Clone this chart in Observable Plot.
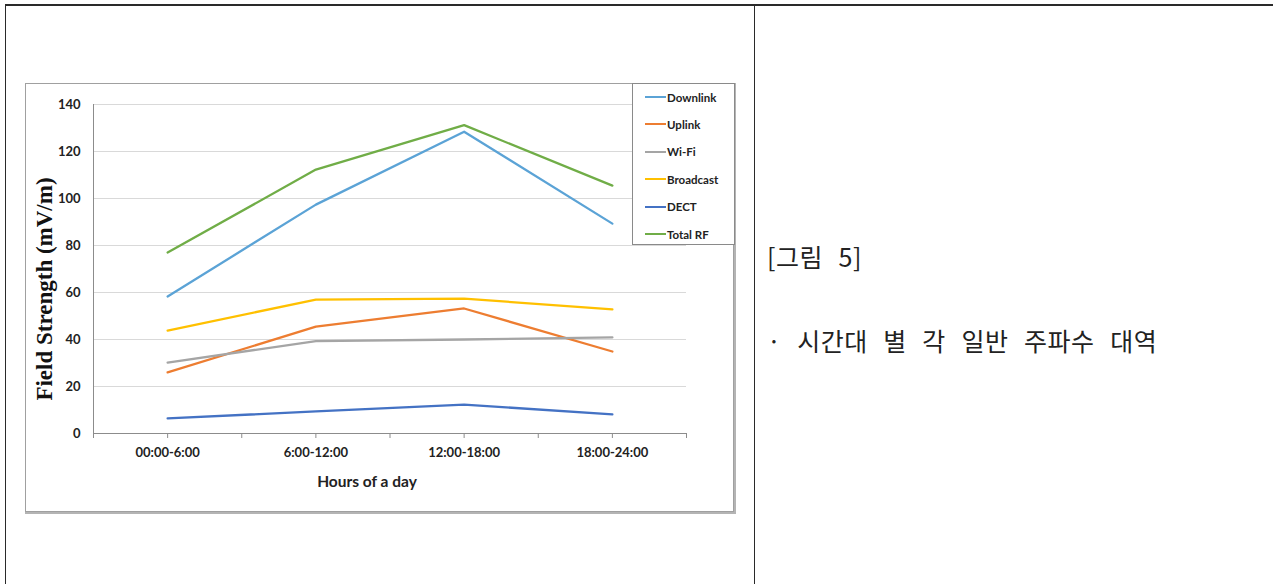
<!DOCTYPE html>
<html><head><meta charset="utf-8">
<script src="https://cdn.jsdelivr.net/npm/d3@7"></script>
<script src="https://cdn.jsdelivr.net/npm/@observablehq/plot@0.6"></script>
<style>
body{margin:0;background:#fff;width:1273px;height:584px;overflow:hidden;position:relative;font-family:Lato,"Liberation Sans",sans-serif}
#topline{position:absolute;left:5px;top:4px;width:1268px;height:2px;background:#2a2a2a}
#leftline{position:absolute;left:5px;top:5px;width:1px;height:579px;background:#2a2a2a}
#divider{position:absolute;left:754px;top:5px;width:1px;height:579px;background:#2a2a2a}
#chartbox{position:absolute;left:25px;top:83px;width:707px;height:427px;border:1px solid #a0a0a0;box-shadow:1px 1px 0 1px #b4b4b4}
#chart{position:absolute;left:25px;top:83px}
#legend{position:absolute;left:632px;top:83px;width:101px;height:160px;border:1px solid #8a8a8a;background:#fff}
.li{position:absolute;left:12px;height:14px;display:flex;align-items:center;font-weight:bold;font-size:11.5px;color:#222}
.li span.sw{display:inline-block;width:21px;height:2px;margin-right:1px}
.kr{position:absolute;left:767px;font-family:"Noto Sans CJK KR",sans-serif;color:#222;white-space:nowrap;font-size:25px;letter-spacing:0.5px;word-spacing:9.5px}
</style></head>
<body>
<div id="topline"></div><div id="leftline"></div><div id="divider"></div>
<div id="chartbox"></div>
<div id="chart"></div>
<div id="legend"></div>
<div class="kr" id="fig" style="top:238px">[그림 5]</div>
<div class="kr" id="desc" style="top:322px">· 시간대 별 각 일반 주파수 대역</div>
<script>
const hours = ["00:00-6:00", "6:00-12:00", "12:00-18:00", "18:00-24:00"];
const seriesNames = ["Downlink", "Uplink", "Wi-Fi", "Broadcast", "DECT", "Total RF"];
const seriesColors = ["#5BA3D6", "#ED7D31", "#A5A5A5", "#FFC000", "#4472C4", "#70AD47"];
const downlink  = [58.3, 97.4, 128.4, 89.3];
const uplink    = [26.0, 45.5, 53.2, 34.9];
const wifi      = [30.2, 39.3, 40.0, 40.9];
const broadcast = [43.8, 57.0, 57.4, 52.8];
const dect      = [6.4, 9.4, 12.3, 8.1];
const totalRF   = [77.0, 112.3, 131.2, 105.5];
const yTicks = [0, 20, 40, 60, 80, 100, 120, 140];
const xTicks = [-0.5, 0, 0.5, 1, 1.5, 2, 2.5, 3, 3.5];
const yLabel = "Field Strength (mV/m)";
const xLabel = "Hours of a day";

const seriesValues = [downlink, uplink, wifi, broadcast, dect, totalRF];
const rows = [];
seriesNames.forEach((s, si) => seriesValues[si].forEach((v, i) => rows.push({series: s, idx: i, value: v})));

const chart = Plot.plot({
  width: 710, height: 430,
  marginLeft: 68, marginRight: 49, marginTop: 21, marginBottom: 80,
  style: {background: "transparent", overflow: "visible"},
  x: {type: "linear", domain: [-0.5, 3.5]},
  y: {domain: [0, 140]},
  color: {domain: seriesNames, range: seriesColors},
  marks: [
    Plot.gridY({ticks: yTicks, stroke: "#d9d9d9", strokeOpacity: 1}),
    Plot.axisY({ticks: yTicks, tickSize: 0, tickPadding: 13, fontWeight: "bold", fontSize: 13, fontFamily: "Lato, sans-serif", label: null, color: "#222"}),
    Plot.axisX({ticks: xTicks, tickSize: 5, tickPadding: 9, stroke: "#8c8c8c",
      tickFormat: d => Number.isInteger(d) ? hours[d] : "", fontWeight: "bold", fontSize: 13, fontFamily: "Lato, sans-serif", label: null, color: "#222"}),
    Plot.ruleY([0], {stroke: "#8c8c8c", strokeWidth: 1}),
    Plot.ruleX([-0.5], {y1: 0, y2: 140, stroke: "#8c8c8c", strokeWidth: 1}),
    Plot.line(rows, {x: "idx", y: "value", z: "series", stroke: "series", strokeWidth: 2.3}),
    Plot.text([yLabel], {frameAnchor: "left", textAnchor: "middle", rotate: -90, dx: -49, dy: 20, fontFamily: "Liberation Serif, serif", fontWeight: "bold", fontSize: 23, fill: "#111"}),
    Plot.text([xLabel], {frameAnchor: "bottom", dx: -23, dy: 53, fontFamily: "Lato, sans-serif", fontWeight: "bold", fontSize: 15.5, fill: "#222"})
  ]
});
document.getElementById("chart").appendChild(chart);

const leg = document.getElementById("legend");
seriesNames.forEach((s, i) => {
  const d = document.createElement("div");
  d.className = "li";
  d.style.top = (6 + i * 27.4) + "px";
  d.innerHTML = `<span class="sw" style="background:${seriesColors[i]}"></span>${s}`;
  leg.appendChild(d);
});
</script>
</body></html>
